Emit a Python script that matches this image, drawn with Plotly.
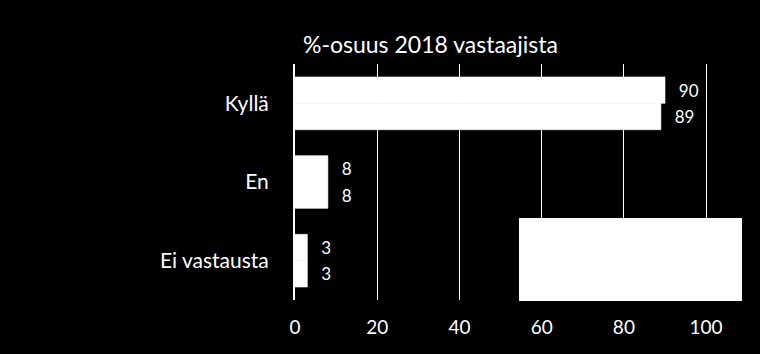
import plotly.graph_objects as go

categories = ["Kyllä", "En", "Ei vastausta"]
series_a = [90, 8, 3]   # upper bar of each group
series_b = [89, 8, 3]   # lower bar of each group
x_ticks = [0, 20, 40, 60, 80, 100]
title_text = "%-osuus 2018 vastaajista"

FONT = "Lato, 'Open Sans', sans-serif"

fig = go.Figure()
for vals in (series_a, series_b):
    fig.add_trace(go.Bar(y=categories, x=vals, orientation="h",
                         marker=dict(color="white", line=dict(width=0.6, color="white")),
                         text=vals, texttemplate="\u00a0\u00a0\u2009%{text}",
                         textposition="outside",
                         textfont=dict(color="white", size=17, family=FONT),
                         cliponaxis=False))

fig.update_layout(
    width=760, height=354,
    paper_bgcolor="black", plot_bgcolor="black",
    margin=dict(l=295, r=21, t=64, b=54),
    barmode="group", bargap=0.33, bargroupgap=0,
    showlegend=False,
    font=dict(family=FONT, color="white"),
    xaxis=dict(range=[0, 108], tickvals=x_ticks, showgrid=True,
               gridcolor="white", gridwidth=1, zeroline=False,
               tickfont=dict(size=19, color="white"), ticks="",
               ticklabelstandoff=14, showline=False),
    yaxis=dict(autorange="reversed", categoryorder="array",
               categoryarray=categories, showgrid=False,
               tickfont=dict(size=21, color="white"), ticks="outside",
               ticklen=20, tickcolor="black",
               showline=True, linecolor="white", linewidth=2,
               zeroline=False),
    annotations=[dict(text=title_text, xref="paper", yref="paper",
                      x=(430 - 295) / 444, y=1 + 20 / 236, xanchor="center",
                      yanchor="middle", showarrow=False,
                      font=dict(size=23, color="white", family=FONT))],
    shapes=[dict(type="rect", xref="paper", yref="paper",
                 x0=(519 - 295) / 444, x1=(742 - 295) / 444,
                 y0=-1 / 236, y1=82 / 236,
                 fillcolor="white", line=dict(width=0), layer="above")],
)

fig.write_html("out.html")
